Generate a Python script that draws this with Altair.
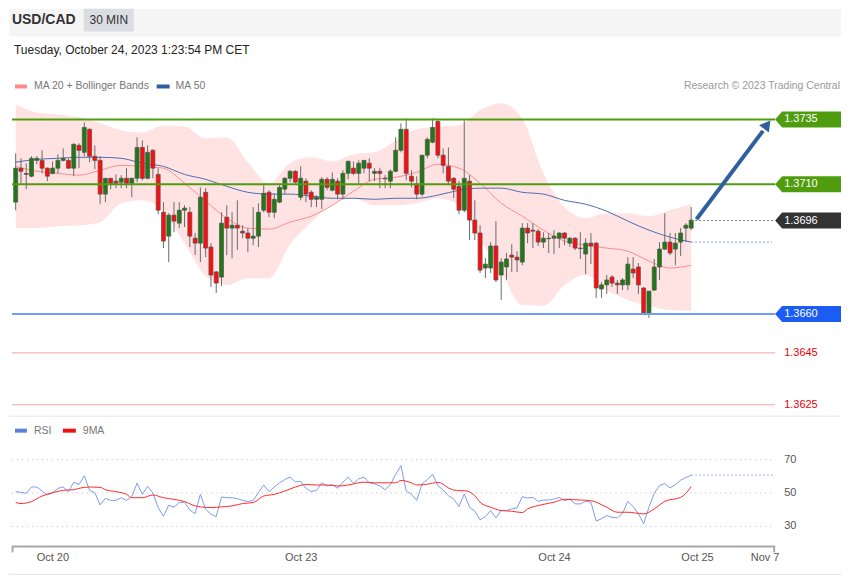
import altair as alt
import pandas as pd

# ---------------- candle data (30 min, USD/CAD) ----------------
OPEN = [1.37031, 1.37162, 1.37142, 1.37131, 1.37192, 1.37192, 1.37162, 1.37142, 1.37162, 1.37192,
        1.37192, 1.37162, 1.37250, 1.37223, 1.37312, 1.37208, 1.37192, 1.37062, 1.37123, 1.37112,
        1.37108, 1.37123, 1.37104, 1.37123, 1.37242, 1.37123, 1.37231, 1.37138, 1.36992, 1.36900,
        1.36981, 1.36950, 1.37000, 1.36992, 1.36892, 1.36873, 1.37069, 1.36858, 1.36762, 1.36742,
        1.36973, 1.36931, 1.36942, 1.36919, 1.36912, 1.36892, 1.36900, 1.37000, 1.37069, 1.36992,
        1.37031, 1.37081, 1.37123, 1.37150, 1.37050, 1.37112, 1.37069, 1.37042, 1.37042, 1.37119,
        1.37077, 1.37112, 1.37062, 1.37142, 1.37162, 1.37142, 1.37162, 1.37181, 1.37142, 1.37150,
        1.37123, 1.37112, 1.37150, 1.37231, 1.37312, 1.37131, 1.37100, 1.37062, 1.37212, 1.37262,
        1.37342, 1.37212, 1.37169, 1.37123, 1.37092, 1.37000, 1.37112, 1.36962, 1.36912, 1.36777,
        1.36777, 1.36862, 1.36750, 1.36781, 1.36827, 1.36819, 1.36800, 1.36931, 1.36923, 1.36919,
        1.36877, 1.36892, 1.36892, 1.36892, 1.36912, 1.36873, 1.36892, 1.36854, 1.36831, 1.36873,
        1.36873, 1.36696, 1.36712, 1.36742, 1.36719, 1.36712, 1.36712, 1.36773, 1.36781, 1.36700,
        1.36604, 1.36692, 1.36781, 1.36850, 1.36877, 1.36850, 1.36877, 1.36931, 1.36931]
HIGH = [1.37219, 1.37200, 1.37181, 1.37208, 1.37208, 1.37231, 1.37165, 1.37188, 1.37215, 1.37238,
        1.37200, 1.37258, 1.37258, 1.37338, 1.37315, 1.37250, 1.37208, 1.37123, 1.37125, 1.37138,
        1.37135, 1.37162, 1.37125, 1.37281, 1.37269, 1.37250, 1.37235, 1.37162, 1.37031, 1.36988,
        1.37031, 1.37031, 1.37019, 1.37012, 1.36912, 1.37088, 1.37085, 1.36873, 1.36765, 1.36992,
        1.37019, 1.36992, 1.37038, 1.36942, 1.36931, 1.37012, 1.37027, 1.37096, 1.37077, 1.37065,
        1.37096, 1.37127, 1.37154, 1.37154, 1.37169, 1.37123, 1.37077, 1.37058, 1.37127, 1.37127,
        1.37146, 1.37123, 1.37154, 1.37192, 1.37188, 1.37192, 1.37192, 1.37200, 1.37162, 1.37162,
        1.37135, 1.37158, 1.37281, 1.37335, 1.37354, 1.37154, 1.37131, 1.37212, 1.37281, 1.37354,
        1.37350, 1.37238, 1.37242, 1.37127, 1.37112, 1.37346, 1.37135, 1.37038, 1.36942, 1.36815,
        1.36877, 1.36958, 1.36815, 1.36835, 1.36869, 1.36842, 1.36950, 1.36950, 1.36950, 1.36927,
        1.36915, 1.36912, 1.36923, 1.36915, 1.36915, 1.36896, 1.36896, 1.36915, 1.36892, 1.36912,
        1.36877, 1.36723, 1.36750, 1.36750, 1.36731, 1.36738, 1.36819, 1.36819, 1.36796, 1.36704,
        1.36688, 1.36812, 1.36877, 1.36988, 1.36912, 1.36912, 1.36931, 1.36950, 1.37012]
LOW = [1.37000, 1.37104, 1.37081, 1.37127, 1.37177, 1.37142, 1.37112, 1.37138, 1.37142, 1.37188,
       1.37158, 1.37131, 1.37162, 1.37208, 1.37185, 1.37158, 1.37023, 1.37031, 1.37081, 1.37085,
       1.37085, 1.37085, 1.37050, 1.37108, 1.37115, 1.37119, 1.37123, 1.36985, 1.36854, 1.36800,
       1.36915, 1.36931, 1.36935, 1.36858, 1.36827, 1.36800, 1.36819, 1.36704, 1.36681, 1.36708,
       1.36827, 1.36815, 1.36846, 1.36892, 1.36838, 1.36865, 1.36858, 1.36992, 1.36973, 1.36969,
       1.37027, 1.37062, 1.37108, 1.37104, 1.37038, 1.37031, 1.37012, 1.37012, 1.37004, 1.37077,
       1.37073, 1.37042, 1.37042, 1.37119, 1.37135, 1.37104, 1.37142, 1.37112, 1.37112, 1.37085,
       1.37085, 1.37085, 1.37146, 1.37223, 1.37115, 1.37088, 1.37042, 1.37054, 1.37200, 1.37258,
       1.37200, 1.37142, 1.37096, 1.37046, 1.36985, 1.36992, 1.36885, 1.36885, 1.36758, 1.36738,
       1.36758, 1.36723, 1.36654, 1.36731, 1.36762, 1.36762, 1.36788, 1.36873, 1.36854, 1.36862,
       1.36854, 1.36835, 1.36831, 1.36854, 1.36865, 1.36858, 1.36846, 1.36812, 1.36754, 1.36792,
       1.36662, 1.36662, 1.36677, 1.36704, 1.36677, 1.36692, 1.36692, 1.36738, 1.36677, 1.36600,
       1.36585, 1.36688, 1.36731, 1.36846, 1.36827, 1.36788, 1.36823, 1.36877, 1.36923]
CLOSE = [1.37162, 1.37150, 1.37138, 1.37200, 1.37200, 1.37162, 1.37131, 1.37162, 1.37192, 1.37200,
         1.37162, 1.37254, 1.37231, 1.37319, 1.37208, 1.37192, 1.37062, 1.37123, 1.37104, 1.37104,
         1.37123, 1.37104, 1.37123, 1.37242, 1.37123, 1.37223, 1.37162, 1.37000, 1.36881, 1.36981,
         1.36958, 1.37000, 1.37008, 1.36900, 1.36873, 1.37050, 1.36854, 1.36750, 1.36719, 1.36950,
         1.36931, 1.36942, 1.36931, 1.36912, 1.36892, 1.36900, 1.36992, 1.37065, 1.36992, 1.37042,
         1.37088, 1.37123, 1.37150, 1.37108, 1.37123, 1.37062, 1.37042, 1.37050, 1.37119, 1.37088,
         1.37119, 1.37062, 1.37142, 1.37188, 1.37142, 1.37181, 1.37192, 1.37162, 1.37150, 1.37142,
         1.37121, 1.37150, 1.37231, 1.37312, 1.37142, 1.37112, 1.37062, 1.37212, 1.37273, 1.37319,
         1.37212, 1.37173, 1.37112, 1.37081, 1.37000, 1.37123, 1.36962, 1.36912, 1.36769, 1.36792,
         1.36862, 1.36731, 1.36800, 1.36812, 1.36819, 1.36808, 1.36931, 1.36912, 1.36919, 1.36877,
         1.36892, 1.36890, 1.36900, 1.36912, 1.36892, 1.36892, 1.36854, 1.36852, 1.36873, 1.36862,
         1.36700, 1.36712, 1.36731, 1.36719, 1.36712, 1.36731, 1.36792, 1.36758, 1.36712, 1.36604,
         1.36688, 1.36781, 1.36850, 1.36877, 1.36835, 1.36873, 1.36912, 1.36942, 1.36962]

# ---------------- indicators (sampled every 4 candles) ----------------
IND_IDX = [0, 4, 8, 12, 16, 20, 24, 28, 32, 36, 40, 44, 48, 52, 56, 60, 64,
           68, 72, 76, 80, 84, 88, 92, 96, 100, 104, 108, 112, 116, 120, 124, 128]
BB_UPPER = [1.37408, 1.37377, 1.37369, 1.37358, 1.37335, 1.37308, 1.37300, 1.37327, 1.37323,
            1.37277, 1.37281, 1.37185, 1.37104, 1.37181, 1.37204, 1.37188, 1.37215, 1.37223,
            1.37269, 1.37312, 1.37323, 1.37327, 1.37385, 1.37412, 1.37354, 1.37142, 1.37012,
            1.36969, 1.36988, 1.36988, 1.36977, 1.37000, 1.37023]
BB_LOWER = [1.36931, 1.36931, 1.36938, 1.36942, 1.36954, 1.37027, 1.37038, 1.36996, 1.36873,
            1.36746, 1.36712, 1.36738, 1.36738, 1.36869, 1.36954, 1.37023, 1.37046, 1.37019,
            1.37019, 1.37027, 1.37046, 1.37019, 1.36885, 1.36762, 1.36635, 1.36631, 1.36712,
            1.36750, 1.36692, 1.36654, 1.36631, 1.36615, 1.36612]
MA20 = [1.37169, 1.37150, 1.37142, 1.37135, 1.37154, 1.37173, 1.37169, 1.37162, 1.37104,
        1.37035, 1.36969, 1.36931, 1.36927, 1.36954, 1.36977, 1.37019, 1.37073, 1.37119,
        1.37127, 1.37146, 1.37177, 1.37162, 1.37104, 1.37027, 1.36977, 1.36923, 1.36881,
        1.36865, 1.36854, 1.36842, 1.36804, 1.36777, 1.36788]
MA50 = [1.37185, 1.37196, 1.37200, 1.37204, 1.37204, 1.37200, 1.37181, 1.37169, 1.37138,
        1.37119, 1.37092, 1.37069, 1.37062, 1.37062, 1.37054, 1.37046, 1.37046, 1.37042,
        1.37046, 1.37046, 1.37058, 1.37077, 1.37085, 1.37085, 1.37069, 1.37062, 1.37038,
        1.37023, 1.36996, 1.36958, 1.36923, 1.36896, 1.36877]

# ---------------- RSI panel ----------------
RSI = [50.8, 50.4, 49.8, 53.6, 53.6, 51.2, 48.8, 50.2, 52.8, 53.6,
       50.8, 56.5, 55.1, 60.3, 51.6, 50.2, 42.9, 46.8, 45.6, 45.6,
       47.2, 45.6, 47.8, 55.9, 49.2, 54.0, 50.0, 41.3, 36.1, 42.7,
       41.5, 44.3, 44.5, 39.7, 37.7, 49.2, 40.3, 37.3, 35.9, 47.6,
       47.2, 47.2, 46.6, 45.6, 44.9, 45.6, 50.2, 54.8, 50.8, 53.6,
       56.1, 58.1, 59.5, 56.7, 56.9, 52.8, 50.8, 51.6, 56.1, 54.2,
       55.1, 52.8, 56.5, 59.5, 55.7, 58.5, 59.5, 56.1, 55.5, 54.2,
       52.0, 55.1, 61.1, 66.4, 51.2, 49.2, 45.6, 55.5, 58.0, 61.3,
       54.4, 51.8, 48.4, 46.4, 41.9, 49.4, 41.5, 39.1, 34.0, 35.9,
       39.5, 35.1, 39.5, 39.5, 40.5, 41.1, 47.8, 47.0, 47.4, 45.0,
       45.8, 45.8, 46.4, 47.4, 45.4, 46.4, 43.5, 43.5, 45.0, 44.5,
       33.2, 34.6, 36.5, 35.5, 35.1, 37.9, 45.0, 41.9, 37.5, 31.6,
       41.5, 49.8, 54.4, 55.7, 53.0, 55.0, 57.7, 59.3, 60.7]
MA9_IDX = [0, 1, 3, 5, 7, 9, 11, 12, 14, 16, 17, 19, 21, 22, 24, 26, 28, 30, 32, 34, 35, 37,
           39, 41, 43, 45, 47, 49, 51, 53, 55, 57, 59, 61, 63, 66, 68, 72, 73, 75, 76, 78, 80,
           81, 82, 84, 85, 87, 88, 90, 92, 94, 96, 97, 99, 102, 104, 107, 109, 112, 114, 116,
           119, 121, 123, 126, 127, 128]
MA9 = [44.3, 43.7, 44.9, 48.2, 50.2, 51.6, 52.0, 52.8, 53.6, 53.4, 52.0, 50.8, 49.2, 47.2,
       47.2, 48.8, 47.2, 46.2, 44.9, 42.3, 41.7, 41.3, 41.7, 42.3, 43.7, 44.3, 48.2, 49.2,
       51.2, 53.6, 55.1, 54.8, 54.8, 54.2, 54.8, 56.5, 56.1, 56.1, 57.5, 56.1, 54.8, 55.3,
       56.3, 55.3, 53.0, 51.4, 51.4, 48.4, 44.5, 41.5, 39.5, 39.1, 38.3, 40.5, 42.5, 44.5,
       46.2, 45.8, 45.4, 41.5, 38.5, 38.5, 37.5, 40.5, 45.0, 47.4, 49.8, 53.8]
RSI_GRID = [70, 50, 30]

# ---------------- levels / annotations ----------------
RESIST = [1.3735, 1.3710]
RESIST_LABELS = ["1.3735", "1.3710"]
SUPPORT = [1.3660]
SUPPORT_LABELS = ["1.3660"]
CURRENT = [1.3696]
CURRENT_LABELS = ["1.3696"]
EXTRA = [1.3645, 1.3625]
EXTRA_LABELS = ["1.3645", "1.3625"]
ARROW_FROM = (129.0, 1.36965)
ARROW_TO = (141.6, 1.37306)
ARROW_HEAD = (142.4, 1.37330)
DATE_LABELS = ["Oct 20", "Oct 23", "Oct 24", "Oct 25", "Nov 7"]
DATE_POS = [7.05, 54.1, 102.1, 129.2, 142.0]

FONT = "Liberation Sans"
W, H_TOP, H_BOT = 834, 408, 160

xs = alt.Scale(domain=[-1.2665, 156.389], nice=False, zero=False, padding=0)
ys = alt.Scale(domain=[1.3620769, 1.3777692], nice=False, zero=False, padding=0)
rs = alt.Scale(domain=[0.746, 96.27], nice=False, zero=False, padding=0)

n = len(OPEN)
candles = pd.DataFrame({"idx": list(range(n)), "open": OPEN, "high": HIGH,
                        "low": LOW, "close": CLOSE})
candles["dir"] = ["up" if c >= o else "down" for o, c in zip(OPEN, CLOSE)]
ind = pd.DataFrame({"idx": IND_IDX, "upper": BB_UPPER, "lower": BB_LOWER,
                    "ma20": MA20, "ma50": MA50})
one = pd.DataFrame({"a": [0]})

X = lambda f="idx": alt.X(f"{f}:Q", scale=xs, axis=None)
Y = lambda f: alt.Y(f"{f}:Q", scale=ys, axis=None)

# ---- header ----
header_bg = alt.Chart(one).mark_rect(color="#f5f5f5").encode(
    x=alt.value(0), x2=alt.value(W), y=alt.value(0), y2=alt.value(28))
badge = alt.Chart(one).mark_rect(color="#dcdde2").encode(
    x=alt.value(75), x2=alt.value(125), y=alt.value(0), y2=alt.value(23))
title = alt.Chart(one).mark_text(text="USD/CAD", font=FONT, fontSize=14, fontWeight="bold",
                                 color="#333333", align="left", baseline="middle").encode(
    x=alt.value(3), y=alt.value(11))
badge_t = alt.Chart(one).mark_text(text="30 MIN", font=FONT, fontSize=12, color="#333333",
                                   align="center", baseline="middle").encode(
    x=alt.value(100), y=alt.value(11))
date_t = alt.Chart(one).mark_text(text="Tuesday, October 24, 2023 1:23:54 PM CET", font=FONT,
                                  fontSize=12, color="#222222", align="left",
                                  baseline="middle").encode(x=alt.value(5), y=alt.value(41))
leg1 = alt.Chart(one).mark_rect(color="#ff8a8a").encode(
    x=alt.value(6), x2=alt.value(18), y=alt.value(76), y2=alt.value(80))
leg1t = alt.Chart(one).mark_text(text="MA 20 + Bollinger Bands", font=FONT, fontSize=10.5,
                                 color="#777777", align="left", baseline="middle").encode(
    x=alt.value(25), y=alt.value(78))
leg2 = alt.Chart(one).mark_rect(color="#2f5f9f").encode(
    x=alt.value(148), x2=alt.value(161), y=alt.value(76), y2=alt.value(80))
leg2t = alt.Chart(one).mark_text(text="MA 50", font=FONT, fontSize=10.5, color="#777777",
                                 align="left", baseline="middle").encode(
    x=alt.value(167), y=alt.value(78))
credit = alt.Chart(one).mark_text(text="Research \u00a9 2023 Trading Central", font=FONT,
                                  fontSize=10.5, color="#9a9a9a", align="right",
                                  baseline="middle").encode(x=alt.value(833), y=alt.value(78))

# ---- price layers ----
band = alt.Chart(ind).mark_area(color="#ffe3e3", interpolate="monotone").encode(
    x=X(), y=Y("upper"), y2="lower")
ma20 = alt.Chart(ind).mark_line(color="#ff8c8c", strokeWidth=1, interpolate="monotone").encode(
    x=X(), y=Y("ma20"))
ma50 = alt.Chart(ind).mark_line(color="#4a6eb2", strokeWidth=1, interpolate="monotone").encode(
    x=X(), y=Y("ma50"))
wicks = alt.Chart(candles).mark_rule(color="#6a6a6a", strokeWidth=1).encode(
    x=X(), y=Y("low"), y2="high")
bodies = alt.Chart(candles).mark_bar(size=4, stroke="#505050", strokeWidth=0.7).encode(
    x=X(), y=Y("open"), y2="close",
    color=alt.Color("dir:N", scale=alt.Scale(domain=["up", "down"],
                                             range=["#1f7a14", "#ff0c0c"]), legend=None))


def hline(vals, color, width, dash=None):
    df = pd.DataFrame({"p": vals})
    kw = dict(color=color, strokeWidth=width)
    if dash:
        kw["strokeDash"] = dash
    return alt.Chart(df).mark_rule(**kw).encode(x=alt.value(3), x2=alt.value(768), y=Y("p"))


res_lines = hline(RESIST, "#4f9d0f", 2)
sup_lines = hline(SUPPORT, "#6f9ef2", 2)
ext_lines = hline(EXTRA, "#f5a5a5", 1)

cur_df = pd.DataFrame({"idx": [n - 1], "p": CURRENT})
cur_dot = alt.Chart(cur_df).mark_rule(color="#777777", strokeWidth=1, strokeDash=[2, 2]).encode(
    x=X(), x2=alt.value(768), y=Y("p"))
ma50_ext = alt.Chart(pd.DataFrame({"idx": [n - 1], "p": [MA50[-1]]})).mark_rule(
    color="#7f9be0", strokeWidth=1, strokeDash=[2, 2]).encode(x=X(), x2=alt.value(765), y=Y("p"))

# tag: tip at chart x 768, box to 834 (66 px wide, 16 px tall)
TAG = "M -1 0 L -0.788 -0.242 L 1 -0.242 L 1 0.242 L -0.788 0.242 Z"


def tags(vals, labels, fill):
    df = pd.DataFrame({"p": vals, "lab": labels})
    shp = alt.Chart(df).mark_point(shape=TAG, filled=True, size=4356, opacity=1,
                                   color=fill, strokeWidth=0).encode(
        x=alt.value(801), y=Y("p"))
    txt = alt.Chart(df).mark_text(font=FONT, fontSize=11, color="white", align="left",
                                  baseline="middle").encode(
        x=alt.value(777), y=Y("p"), text="lab:N")
    return shp + txt


tag_res = tags(RESIST, RESIST_LABELS, "#4f9d0f")
tag_cur = tags(CURRENT, CURRENT_LABELS, "#333333")
tag_sup = tags(SUPPORT, SUPPORT_LABELS, "#1b5cf5")
ext_txt = alt.Chart(pd.DataFrame({"p": EXTRA, "lab": EXTRA_LABELS})).mark_text(
    font=FONT, fontSize=11, color="#e8000b", align="left", baseline="middle").encode(
    x=alt.value(777), y=Y("p"), text="lab:N")

arrow_df = pd.DataFrame({"x1": [ARROW_FROM[0]], "y1": [ARROW_FROM[1]],
                         "x2": [ARROW_TO[0]], "y2": [ARROW_TO[1]]})
arrow = alt.Chart(arrow_df).mark_rule(color="#2f5f9f", strokeWidth=4).encode(
    x=X("x1"), x2="x2", y=Y("y1"), y2="y2")
head = alt.Chart(pd.DataFrame({"x": [ARROW_HEAD[0]], "y": [ARROW_HEAD[1]]})).mark_point(
    shape="triangle-up", filled=True, size=150, angle=37, opacity=1, color="#2f5f9f").encode(
    x=X("x"), y=Y("y"))

top = alt.layer(header_bg, badge, title, badge_t, date_t, leg1, leg1t, leg2, leg2t, credit,
                band, ma20, ma50, wicks, bodies, ext_lines, res_lines, sup_lines,
                cur_dot, ma50_ext, tag_res, tag_cur, tag_sup, ext_txt, arrow, head
                ).properties(width=W, height=H_TOP)

# ---- RSI panel ----
R = lambda f: alt.Y(f"{f}:Q", scale=rs, axis=None)
rsi_df = pd.DataFrame({"idx": list(range(len(RSI))), "rsi": RSI})
ma9_df = pd.DataFrame({"idx": MA9_IDX, "ma9": MA9})
grid_df = pd.DataFrame({"g": RSI_GRID, "lab": [str(g) for g in RSI_GRID]})

divider = alt.Chart(one).mark_rule(color="#e6e6e6").encode(
    x=alt.value(0), x2=alt.value(W), y=alt.value(0.5))
grid = alt.Chart(grid_df).mark_rule(color="#bdbdbd", strokeWidth=1, strokeDash=[1, 4]).encode(
    x=alt.value(3), x2=alt.value(768), y=R("g"))
grid_t = alt.Chart(grid_df).mark_text(font=FONT, fontSize=11, color="#555555", align="left",
                                      baseline="middle").encode(
    x=alt.value(777), y=R("g"), text="lab:N")
rsi_line = alt.Chart(rsi_df).mark_line(color="#7a9cf0", strokeWidth=1).encode(
    x=X(), y=R("rsi"))
ma9_line = alt.Chart(ma9_df).mark_line(color="#ff2a2a", strokeWidth=1,
                                       interpolate="monotone").encode(x=X(), y=R("ma9"))
rsi_ext = alt.Chart(pd.DataFrame({"idx": [len(RSI) - 1], "v": [RSI[-1]]})).mark_rule(
    color="#9db4f5", strokeWidth=1, strokeDash=[2, 2]).encode(x=X(), x2=alt.value(768), y=R("v"))
rl1 = alt.Chart(one).mark_rect(color="#5b7fe0").encode(
    x=alt.value(6), x2=alt.value(18), y=alt.value(13), y2=alt.value(17))
rl1t = alt.Chart(one).mark_text(text="RSI", font=FONT, fontSize=10.5, color="#777777",
                                align="left", baseline="middle").encode(
    x=alt.value(25), y=alt.value(15))
rl2 = alt.Chart(one).mark_rect(color="#ee1111").encode(
    x=alt.value(54), x2=alt.value(67), y=alt.value(13), y2=alt.value(17))
rl2t = alt.Chart(one).mark_text(text="9MA", font=FONT, fontSize=10.5, color="#777777",
                                align="left", baseline="middle").encode(
    x=alt.value(74), y=alt.value(15))
axis_line = alt.Chart(one).mark_rule(color="#a8a8a8", strokeWidth=2).encode(
    x=alt.value(3), x2=alt.value(768), y=alt.value(131))
tick_l = alt.Chart(one).mark_rule(color="#a8a8a8", strokeWidth=2).encode(
    x=alt.value(3.5), y=alt.value(131), y2=alt.value(137))
tick_r = alt.Chart(one).mark_rule(color="#a8a8a8", strokeWidth=2).encode(
    x=alt.value(767), y=alt.value(131), y2=alt.value(137))
dates = alt.Chart(pd.DataFrame({"idx": DATE_POS, "lab": DATE_LABELS})).mark_text(
    font=FONT, fontSize=11, color="#555555", align="center", baseline="middle").encode(
    x=X(), y=alt.value(143), text="lab:N")
bb2 = alt.Chart(one).mark_rule(color="#e3e3e3").encode(
    x=alt.value(0), x2=alt.value(W), y=alt.value(159))

bot = alt.layer(divider, grid, grid_t, rsi_ext, rsi_line, ma9_line, rl1, rl1t, rl2, rl2t,
                axis_line, tick_l, tick_r, dates, bb2).properties(width=W, height=H_BOT)

chart = alt.vconcat(top, bot, spacing=0).properties(padding=0).configure_view(stroke=None)

chart.save("out.html", embed_options={"renderer": "svg", "actions": False})
